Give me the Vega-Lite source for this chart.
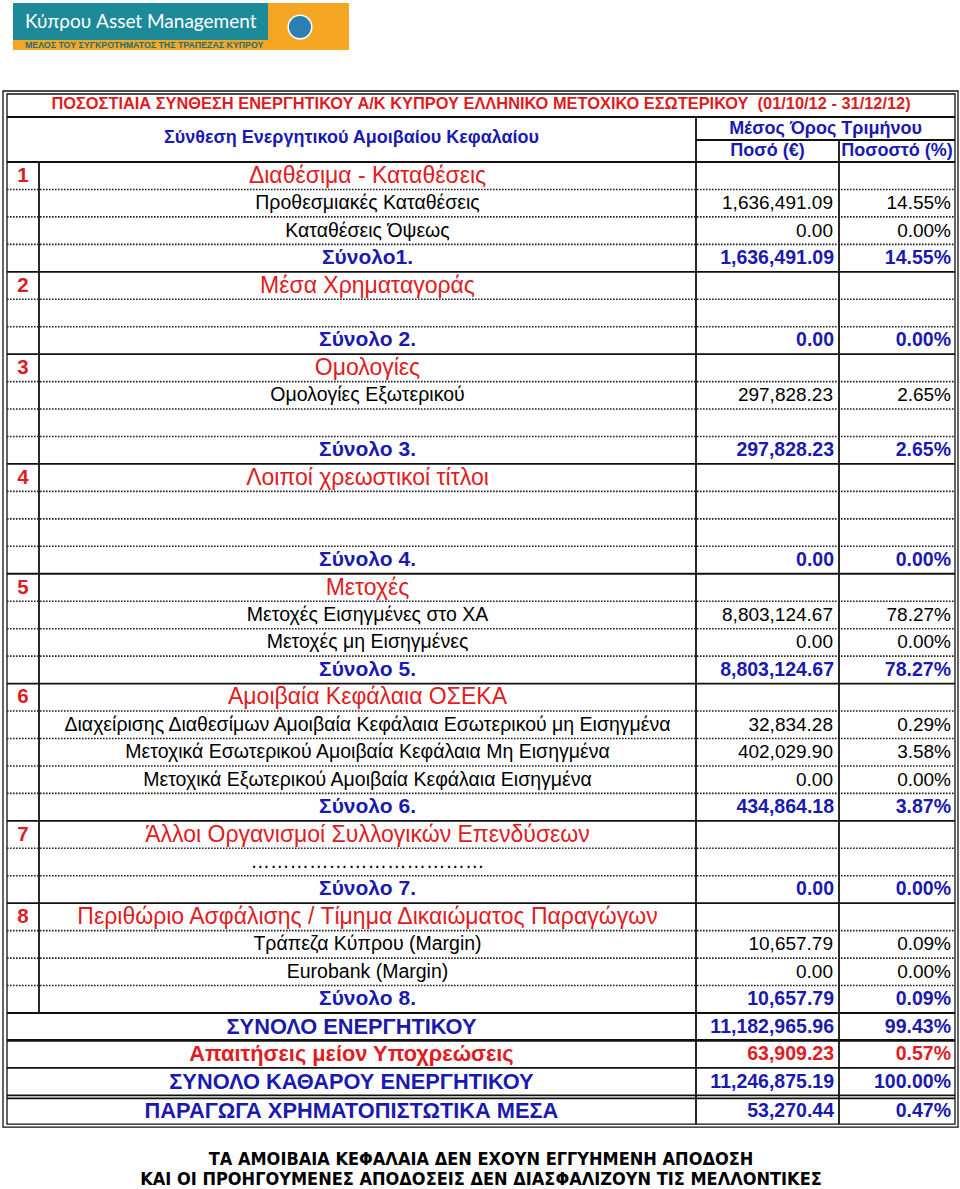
{
"$schema": "https://vega.github.io/schema/vega-lite/v6.json",
"width": 960, "height": 1189, "padding": 0, "autosize": {"type": "none"},
"background": "#ffffff",
"config": {"view": {"stroke": null}, "text": {"font": "Liberation Sans"}, "axis": {"disable": true}},
"datasets": {
 "rows": [
  {"r": 0, "kind": "sec", "num": "1", "label": "Διαθέσιμα - Καταθέσεις"},
  {"r": 1, "kind": "item", "label": "Προθεσμιακές Καταθέσεις", "amount": 1636491.09, "pct": 0.1455},
  {"r": 2, "kind": "item", "label": "Καταθέσεις Όψεως", "amount": 0, "pct": 0},
  {"r": 3, "kind": "sub", "label": "Σύνολο1.", "amount": 1636491.09, "pct": 0.1455},
  {"r": 4, "kind": "sec", "num": "2", "label": "Μέσα Χρηματαγοράς"},
  {"r": 6, "kind": "sub", "label": "Σύνολο 2.", "amount": 0, "pct": 0},
  {"r": 7, "kind": "sec", "num": "3", "label": "Ομολογίες"},
  {"r": 8, "kind": "item", "label": "Ομολογίες Εξωτερικού", "amount": 297828.23, "pct": 0.0265},
  {"r": 10, "kind": "sub", "label": "Σύνολο 3.", "amount": 297828.23, "pct": 0.0265},
  {"r": 11, "kind": "sec", "num": "4", "label": "Λοιποί χρεωστικοί τίτλοι"},
  {"r": 14, "kind": "sub", "label": "Σύνολο 4.", "amount": 0, "pct": 0},
  {"r": 15, "kind": "sec", "num": "5", "label": "Μετοχές"},
  {"r": 16, "kind": "item", "label": "Μετοχές Εισηγμένες στο ΧΑ", "amount": 8803124.67, "pct": 0.7827},
  {"r": 17, "kind": "item", "label": "Μετοχές μη Εισηγμένες", "amount": 0, "pct": 0},
  {"r": 18, "kind": "sub", "label": "Σύνολο 5.", "amount": 8803124.67, "pct": 0.7827},
  {"r": 19, "kind": "sec", "num": "6", "label": "Αμοιβαία Κεφάλαια ΟΣΕΚΑ"},
  {"r": 20, "kind": "item", "label": "Διαχείρισης Διαθεσίμων Αμοιβαία Κεφάλαια Εσωτερικού μη Εισηγμένα", "amount": 32834.28, "pct": 0.0029},
  {"r": 21, "kind": "item", "label": "Μετοχικά Εσωτερικού Αμοιβαία Κεφάλαια  Μη Εισηγμένα", "amount": 402029.90, "pct": 0.0358},
  {"r": 22, "kind": "item", "label": "Μετοχικά Εξωτερικού Αμοιβαία Κεφάλαια  Εισηγμένα", "amount": 0, "pct": 0},
  {"r": 23, "kind": "sub", "label": "Σύνολο 6.", "amount": 434864.18, "pct": 0.0387},
  {"r": 24, "kind": "sec", "num": "7", "label": "Άλλοι Οργανισμοί Συλλογικών Επενδύσεων"},
  {"r": 25, "kind": "item", "label": "………………………………"},
  {"r": 26, "kind": "sub", "label": "Σύνολο 7.", "amount": 0, "pct": 0},
  {"r": 27, "kind": "sec", "num": "8", "label": "Περιθώριο Ασφάλισης / Τίμημα Δικαιώματος Παραγώγων"},
  {"r": 28, "kind": "item", "label": "Τράπεζα Κύπρου (Margin)", "amount": 10657.79, "pct": 0.0009},
  {"r": 29, "kind": "item", "label": "Eurobank (Margin)", "amount": 0, "pct": 0},
  {"r": 30, "kind": "sub", "label": "Σύνολο 8.", "amount": 10657.79, "pct": 0.0009},
  {"r": 31, "kind": "grand", "label": "ΣΥΝΟΛΟ ΕΝΕΡΓΗΤΙΚΟΥ", "amount": 11182965.96, "pct": 0.9943},
  {"r": 32, "kind": "liab", "label": "Απαιτήσεις μείον Υποχρεώσεις", "amount": 63909.23, "pct": 0.0057},
  {"r": 33, "kind": "grand", "label": "ΣΥΝΟΛΟ ΚΑΘΑΡΟΥ ΕΝΕΡΓΗΤΙΚΟΥ", "amount": 11246875.19, "pct": 1.0},
  {"r": 34.07, "kind": "grand", "label": "ΠΑΡΑΓΩΓΑ ΧΡΗΜΑΤΟΠΙΣΤΩΤΙΚΑ ΜΕΣΑ", "amount": 53270.44, "pct": 0.0047}
 ],
 "numpos": [{"kind": "sec", "c": 1.5}],
 "labelpos": [
  {"kind": "sec", "c": 2.5}, {"kind": "item", "c": 2.5}, {"kind": "sub", "c": 2.5},
  {"kind": "grand", "c": 2.4756}, {"kind": "liab", "c": 2.4756}
 ],
 "amountpos": [
  {"kind": "item", "c": 4}, {"kind": "sub", "c": 4}, {"kind": "grand", "c": 4}, {"kind": "liab", "c": 4}
 ],
 "pctpos": [
  {"kind": "item", "c": 5}, {"kind": "sub", "c": 5}, {"kind": "grand", "c": 5}, {"kind": "liab", "c": 5}
 ],
 "lines": [
  {"kind": "solid", "c": 1, "c2": 5, "r": -2.139, "r2": -2.139},
  {"kind": "solid", "c": 3, "c2": 5, "r": -1.301, "r2": -1.301},
  {"kind": "solid", "c": 1, "c2": 5, "r": -0.5, "r2": -0.5},
  {"kind": "solid", "c": 1, "c2": 5, "r": 3.5, "r2": 3.5},
  {"kind": "solid", "c": 1, "c2": 5, "r": 6.5, "r2": 6.5},
  {"kind": "solid", "c": 1, "c2": 5, "r": 10.5, "r2": 10.5},
  {"kind": "solid", "c": 1, "c2": 5, "r": 14.5, "r2": 14.5},
  {"kind": "solid", "c": 1, "c2": 5, "r": 18.5, "r2": 18.5},
  {"kind": "solid", "c": 1, "c2": 5, "r": 23.5, "r2": 23.5},
  {"kind": "solid", "c": 1, "c2": 5, "r": 26.5, "r2": 26.5},
  {"kind": "solid", "c": 1, "c2": 5, "r": 30.5, "r2": 30.5},
  {"kind": "thick", "c": 1, "c2": 5, "r": 31.5, "r2": 31.5},
  {"kind": "solid", "c": 1, "c2": 5, "r": 32.5, "r2": 32.5},
  {"kind": "solid", "c": 1, "c2": 5, "r": 33.5, "r2": 33.5},
  {"kind": "solid", "c": 1, "c2": 5, "r": 33.61, "r2": 33.61},
  {"kind": "solid", "c": 2, "c2": 2, "r": -0.5, "r2": 30.5},
  {"kind": "solid", "c": 3, "c2": 3, "r": -2.139, "r2": 34.545},
  {"kind": "solid", "c": 4, "c2": 4, "r": -1.301, "r2": 34.545},
  {"kind": "dot", "c": 1, "c2": 5, "r": 0.5, "r2": 0.5},
  {"kind": "dot", "c": 1, "c2": 5, "r": 1.5, "r2": 1.5},
  {"kind": "dot", "c": 1, "c2": 5, "r": 2.5, "r2": 2.5},
  {"kind": "dot", "c": 1, "c2": 5, "r": 4.5, "r2": 4.5},
  {"kind": "dot", "c": 1, "c2": 5, "r": 5.5, "r2": 5.5},
  {"kind": "dot", "c": 1, "c2": 5, "r": 7.5, "r2": 7.5},
  {"kind": "dot", "c": 1, "c2": 5, "r": 8.5, "r2": 8.5},
  {"kind": "dot", "c": 1, "c2": 5, "r": 9.5, "r2": 9.5},
  {"kind": "dot", "c": 1, "c2": 5, "r": 11.5, "r2": 11.5},
  {"kind": "dot", "c": 1, "c2": 5, "r": 12.5, "r2": 12.5},
  {"kind": "dot", "c": 1, "c2": 5, "r": 13.5, "r2": 13.5},
  {"kind": "dot", "c": 1, "c2": 5, "r": 15.5, "r2": 15.5},
  {"kind": "dot", "c": 1, "c2": 5, "r": 16.5, "r2": 16.5},
  {"kind": "dot", "c": 1, "c2": 5, "r": 17.5, "r2": 17.5},
  {"kind": "dot", "c": 1, "c2": 5, "r": 19.5, "r2": 19.5},
  {"kind": "dot", "c": 1, "c2": 5, "r": 20.5, "r2": 20.5},
  {"kind": "dot", "c": 1, "c2": 5, "r": 21.5, "r2": 21.5},
  {"kind": "dot", "c": 1, "c2": 5, "r": 22.5, "r2": 22.5},
  {"kind": "dot", "c": 1, "c2": 5, "r": 24.5, "r2": 24.5},
  {"kind": "dot", "c": 1, "c2": 5, "r": 25.5, "r2": 25.5},
  {"kind": "dot", "c": 1, "c2": 5, "r": 27.5, "r2": 27.5},
  {"kind": "dot", "c": 1, "c2": 5, "r": 28.5, "r2": 28.5},
  {"kind": "dot", "c": 1, "c2": 5, "r": 29.5, "r2": 29.5}
 ],
 "frame": [
  {"kind": "outer", "c": 0, "c2": 6, "r": -3.087, "r2": 34.655},
  {"kind": "inner", "c": 1, "c2": 5, "r": -2.977, "r2": 34.545}
 ],
 "logo": [
  {"part": "band", "c": 1.1875, "c2": 2.4718, "r": -6.292, "r2": -4.58},
  {"part": "panel", "c": 1.1875, "c2": 2.3486, "r": -6.292, "r2": -4.944}
 ],
 "texts": [
  {"role": "brand", "t": "Κύπρου Asset Management", "c": 1.5625, "r": -5.382},
  {"role": "motto", "t": "ΜΕΛΟΣ ΤΟΥ ΣΥΓΚΡΟΤΗΜΑΤΟΣ ΤΗΣ ΤΡΑΠΕΖΑΣ ΚΥΠΡΟΥ", "c": 1.5625, "r": -4.762},
  {"role": "badge", "t": "κοινό κτήμα όλων", "c": 2.3972, "r": -5.418},
  {"role": "title", "t": "ΠΟΣΟΣΤΙΑΙΑ ΣΥΝΘΕΣΗ ΕΝΕΡΓΗΤΙΚΟΥ Α/Κ ΚΥΠΡΟΥ ΕΛΛΗΝΙΚΟ ΜΕΤΟΧΙΚΟ ΕΣΩΤΕΡΙΚΟΥ \u00a0(01/10/12 - 31/12/12)", "c": 2.6728, "r": -2.613},
  {"role": "head", "t": "Σύνθεση Ενεργητικού Αμοιβαίου Κεφαλαίου", "c": 2.4756, "r": -1.374},
  {"role": "head", "t": "Μέσος Όρος Τριμήνου", "c": 3.9056, "r": -1.702},
  {"role": "head", "t": "Ποσό (€)", "c": 3.5, "r": -0.901},
  {"role": "head", "t": "Ποσοστό (%)", "c": 4.5, "r": -0.901},
  {"role": "foot", "t": "ΤΑ ΑΜΟΙΒΑΙΑ ΚΕΦΑΛΑΙΑ ΔΕΝ ΕΧΟΥΝ ΕΓΓΥΗΜΕΝΗ ΑΠΟΔΟΣΗ", "c": 2.6728, "r": 35.84},
  {"role": "foot", "t": "ΚΑΙ ΟΙ ΠΡΟΗΓΟΥΜΕΝΕΣ ΑΠΟΔΟΣΕΙΣ ΔΕΝ ΔΙΑΣΦΑΛΙΖΟΥΝ ΤΙΣ ΜΕΛΛΟΝΤΙΚΕΣ", "c": 2.6728, "r": 36.58}
 ]
},
"encoding": {
 "x": {"field": "c", "type": "quantitative", "scale": {"domain": [0,1,2,3,4,5,6], "range": [3,7,39,696,839,955,958], "nice": false, "zero": false}, "axis": null},
 "y": {"field": "r", "type": "quantitative", "scale": {"domain": [-0.5, 30.5], "range": [162, 1013], "nice": false, "zero": false}, "axis": null}
},
"layer": [
 {"data": {"name": "logo"}, "transform": [{"filter": "datum.part == 'band'"}],
  "mark": {"type": "rect", "fill": "#f5a623"},
  "encoding": {"x2": {"field": "c2"}, "y2": {"field": "r2"}}},
 {"data": {"name": "logo"}, "transform": [{"filter": "datum.part == 'panel'"}],
  "mark": {"type": "rect", "fill": "#1d8a99"},
  "encoding": {"x2": {"field": "c2"}, "y2": {"field": "r2"}}},
 {"data": {"name": "texts"}, "transform": [{"filter": "datum.role == 'brand'"}],
  "mark": {"type": "text", "font": "Lato", "fontSize": 19, "color": "#ffffff", "align": "left", "baseline": "alphabetic"},
  "encoding": {"text": {"field": "t"}}},
 {"data": {"name": "texts"}, "transform": [{"filter": "datum.role == 'motto'"}],
  "mark": {"type": "text", "fontSize": 8.8, "fontWeight": "bold", "color": "#1d6f7a", "align": "left", "baseline": "middle"},
  "encoding": {"text": {"field": "t"}}},
 {"data": {"name": "texts"}, "transform": [{"filter": "datum.role == 'badge'"}],
  "mark": {"type": "point", "filled": true, "size": 560, "shape": "circle", "color": "#2b7fb3", "stroke": "#ffffff", "strokeWidth": 1.5, "opacity": 1},
  "encoding": {}},
 {"data": {"name": "frame"},
  "mark": {"type": "rect", "filled": false, "stroke": "#111111", "strokeWidth": 1.3},
  "encoding": {"x2": {"field": "c2"}, "y2": {"field": "r2"}}},
 {"data": {"name": "lines"}, "transform": [{"filter": "datum.kind == 'solid'"}],
  "mark": {"type": "rule", "color": "#111111", "strokeWidth": 1.8},
  "encoding": {"x2": {"field": "c2"}, "y2": {"field": "r2"}}},
 {"data": {"name": "lines"}, "transform": [{"filter": "datum.kind == 'thick'"}],
  "mark": {"type": "rule", "color": "#111111", "strokeWidth": 2.8},
  "encoding": {"x2": {"field": "c2"}, "y2": {"field": "r2"}}},
 {"data": {"name": "lines"}, "transform": [{"filter": "datum.kind == 'dot'"}],
  "mark": {"type": "rule", "color": "#222222", "strokeWidth": 1.6, "strokeDash": [1.6, 1.4]},
  "encoding": {"x2": {"field": "c2"}, "y2": {"field": "r2"}}},
 {"data": {"name": "texts"}, "transform": [{"filter": "datum.role == 'title'"}],
  "mark": {"type": "text", "fontSize": 16.4, "fontWeight": "bold", "color": "#e01b22", "align": "center", "baseline": "middle"},
  "encoding": {"text": {"field": "t"}}},
 {"data": {"name": "texts"}, "transform": [{"filter": "datum.role == 'head'"}],
  "mark": {"type": "text", "fontSize": 18, "fontWeight": "bold", "color": "#1a1aae", "align": "center", "baseline": "middle"},
  "encoding": {"text": {"field": "t"}}},
 {"data": {"name": "texts"}, "transform": [{"filter": "datum.role == 'foot'"}],
  "mark": {"type": "text", "font": "DejaVu Sans Condensed", "fontSize": 18, "fontWeight": "bold", "color": "#000000", "align": "center", "baseline": "middle"},
  "encoding": {"text": {"field": "t"}}},
 {"data": {"name": "rows"}, "transform": [{"filter": "datum.kind == 'sec'"}, {"lookup": "kind", "from": {"data": {"name": "numpos"}, "key": "kind", "fields": ["c"]}}],
  "mark": {"type": "text", "fontSize": 20.5, "fontWeight": "bold", "color": "#e01b22", "align": "center", "baseline": "middle"},
  "encoding": {"text": {"field": "num"}}},
 {"data": {"name": "rows"}, "transform": [{"filter": "datum.kind == 'sec'"}, {"lookup": "kind", "from": {"data": {"name": "labelpos"}, "key": "kind", "fields": ["c"]}}],
  "mark": {"type": "text", "fontSize": 23, "color": "#e01b22", "align": "center", "baseline": "middle"},
  "encoding": {"text": {"field": "label"}}},
 {"data": {"name": "rows"}, "transform": [{"filter": "datum.kind == 'item'"}, {"lookup": "kind", "from": {"data": {"name": "labelpos"}, "key": "kind", "fields": ["c"]}}],
  "mark": {"type": "text", "fontSize": 19.5, "color": "#000000", "align": "center", "baseline": "middle"},
  "encoding": {"text": {"field": "label"}}},
 {"data": {"name": "rows"}, "transform": [{"filter": "datum.kind == 'item' && datum.amount != null"}, {"lookup": "kind", "from": {"data": {"name": "amountpos"}, "key": "kind", "fields": ["c"]}}],
  "mark": {"type": "text", "fontSize": 19, "color": "#000000", "align": "right", "baseline": "middle", "dx": -6},
  "encoding": {"text": {"field": "amount", "type": "quantitative", "format": ",.2f"}}},
 {"data": {"name": "rows"}, "transform": [{"filter": "datum.kind == 'item' && datum.pct != null"}, {"lookup": "kind", "from": {"data": {"name": "pctpos"}, "key": "kind", "fields": ["c"]}}],
  "mark": {"type": "text", "fontSize": 19, "color": "#000000", "align": "right", "baseline": "middle", "dx": -4},
  "encoding": {"text": {"field": "pct", "type": "quantitative", "format": ".2%"}}},
 {"data": {"name": "rows"}, "transform": [{"filter": "datum.kind == 'sub'"}, {"lookup": "kind", "from": {"data": {"name": "labelpos"}, "key": "kind", "fields": ["c"]}}],
  "mark": {"type": "text", "fontSize": 21, "fontWeight": "bold", "color": "#1a1aae", "align": "center", "baseline": "middle"},
  "encoding": {"text": {"field": "label"}}},
 {"data": {"name": "rows"}, "transform": [{"filter": "datum.kind == 'sub'"}, {"lookup": "kind", "from": {"data": {"name": "amountpos"}, "key": "kind", "fields": ["c"]}}],
  "mark": {"type": "text", "fontSize": 19.5, "fontWeight": "bold", "color": "#1a1aae", "align": "right", "baseline": "middle", "dx": -5},
  "encoding": {"text": {"field": "amount", "type": "quantitative", "format": ",.2f"}}},
 {"data": {"name": "rows"}, "transform": [{"filter": "datum.kind == 'sub'"}, {"lookup": "kind", "from": {"data": {"name": "pctpos"}, "key": "kind", "fields": ["c"]}}],
  "mark": {"type": "text", "fontSize": 19.5, "fontWeight": "bold", "color": "#1a1aae", "align": "right", "baseline": "middle", "dx": -4},
  "encoding": {"text": {"field": "pct", "type": "quantitative", "format": ".2%"}}},
 {"data": {"name": "rows"}, "transform": [{"filter": "datum.kind == 'grand' || datum.kind == 'liab'"}, {"lookup": "kind", "from": {"data": {"name": "labelpos"}, "key": "kind", "fields": ["c"]}}],
  "mark": {"type": "text", "fontSize": 21.8, "fontWeight": "bold", "align": "center", "baseline": "middle"},
  "encoding": {"text": {"field": "label"},
   "color": {"field": "kind", "type": "nominal", "scale": {"domain": ["grand", "liab"], "range": ["#1a1aae", "#e01b22"]}, "legend": null}}},
 {"data": {"name": "rows"}, "transform": [{"filter": "datum.kind == 'grand' || datum.kind == 'liab'"}, {"lookup": "kind", "from": {"data": {"name": "amountpos"}, "key": "kind", "fields": ["c"]}}],
  "mark": {"type": "text", "fontSize": 19.5, "fontWeight": "bold", "align": "right", "baseline": "middle", "dx": -5},
  "encoding": {"text": {"field": "amount", "type": "quantitative", "format": ",.2f"},
   "color": {"field": "kind", "type": "nominal", "scale": {"domain": ["grand", "liab"], "range": ["#1a1aae", "#e01b22"]}, "legend": null}}},
 {"data": {"name": "rows"}, "transform": [{"filter": "datum.kind == 'grand' || datum.kind == 'liab'"}, {"lookup": "kind", "from": {"data": {"name": "pctpos"}, "key": "kind", "fields": ["c"]}}],
  "mark": {"type": "text", "fontSize": 19.5, "fontWeight": "bold", "align": "right", "baseline": "middle", "dx": -4},
  "encoding": {"text": {"field": "pct", "type": "quantitative", "format": ".2%"},
   "color": {"field": "kind", "type": "nominal", "scale": {"domain": ["grand", "liab"], "range": ["#1a1aae", "#e01b22"]}, "legend": null}}}
]
}
